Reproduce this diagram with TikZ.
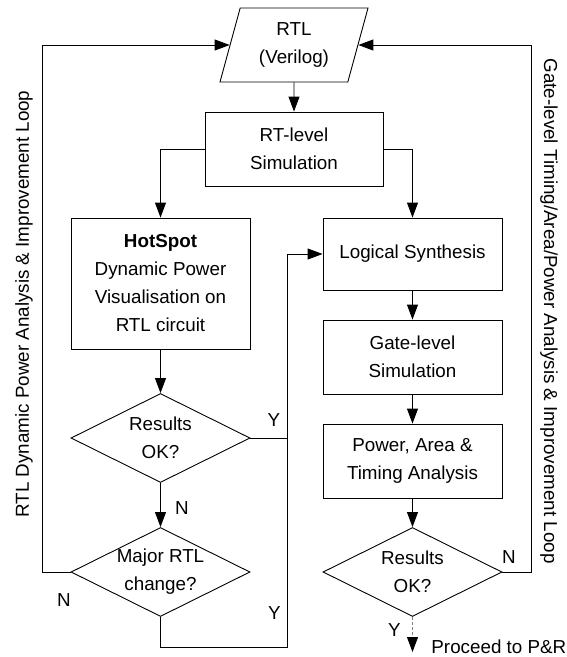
\documentclass[tikz,border=0pt]{standalone}
\usepackage{fontspec}
\setmainfont{Liberation Sans}
\usepackage{tikz}
\usetikzlibrary{shapes.geometric}
\usetikzlibrary{arrows.meta}

\tikzset{
    box/.style={rectangle, draw, minimum width=179pt, align=center},
    decision/.style={diamond, draw, aspect=2, inner sep=-2pt, minimum width=179pt, minimum height=89pt, align=center},
    lbl/.style={inner sep=0pt},
    >={Triangle[length=15pt, width=11pt]}
}

\begin{document}
\begin{tikzpicture}[x=1pt, y=-1pt, line width=0.9pt, font=\fontsize{18.8}{28}\selectfont]
        \useasboundingbox (0,0) rectangle (567,657);

        % Flow
        \node[trapezium, draw, trapezium left angle=68.6, trapezium right angle=111.4, trapezium stretches body=true, minimum width=148pt, minimum height=74pt, align=center] (rtl) at (294, 45) {RTL\\(Verilog)};
        \node[box, minimum width=178pt, minimum height=74pt] (rtsim) at (294, 149) {RT-level\\Simulation};

        % RTL loop
        \node[box, minimum height=131pt] (hot) at (160.5, 283.5) {\textbf{HotSpot}\\Dynamic Power\\Visualisation on\\RTL circuit};
        \node[decision] (ok1) at (160.5, 438) {Results\\OK?};
        \node[decision] (maj) at (160.5, 572) {Major RTL\\change?};

        % Gate-level loop
        \node[box, minimum height=72pt] (syn) at (412.5, 254) {Logical Synthesis};
        \node[box, minimum height=74pt] (gate) at (412.5, 357) {Gate-level\\Simulation};
        \node[box, minimum height=74pt] (pow) at (412.5, 461) {Power, Area \&\\Timing Analysis};
        \node[decision] (ok2) at (412.5, 572) {Results\\OK?};

        \coordinate (bus) at (287.5, 647);
        \coordinate (lloop) at (42, 572);
        \coordinate (rloop) at (531, 572);
        \coordinate (pr) at (412.5, 652);

        \draw[->] (rtl) -- (rtsim);
        \draw[->] (rtsim.west) -| (hot);
        \draw[->] (rtsim.east) -| (syn);
        \draw[->] (hot) -- (ok1);
        \draw[->] (ok1) -- (maj);
        \draw[->] (syn) -- (gate);
        \draw[->] (gate) -- (pow);
        \draw[->] (pow) -- (ok2);
        \draw[->] (ok1.east) -- (ok1.east -| bus) |- (syn);
        \draw (maj.south) |- (bus) -- (ok1.east -| bus);
        \draw[->] (maj.west) -- (lloop) |- (rtl);
        \draw[->] (ok2.east) -- (rloop) |- (rtl);
        \draw[-{Triangle[length=15pt, width=11pt, color=black]}, gray, dash pattern=on 3pt off 2pt] (ok2.south) -- (pr);

        % Labels
        \node[lbl] (y1) at (274, 420) {Y};
        \node[lbl] (n1) at (182, 508) {N};
        \node[lbl] (n2) at (64, 600) {N};
        \node[lbl] (y2) at (274.5, 613) {Y};
        \node[lbl] (n3) at (509, 557) {N};
        \node[lbl] (y3) at (394.5, 630) {Y};
        \node[lbl, anchor=west] (go) at (431, 647) {Proceed to P\&R};
        \node[rotate=90] (ltext) at (24, 304) {RTL Dynamic Power Analysis \& Improvement Loop};
        \node[rotate=-90] (rtext) at (549, 311) {Gate-level Timing/Area/Power Analysis \& Improvement Loop};

        \end{tikzpicture}
\end{document}
